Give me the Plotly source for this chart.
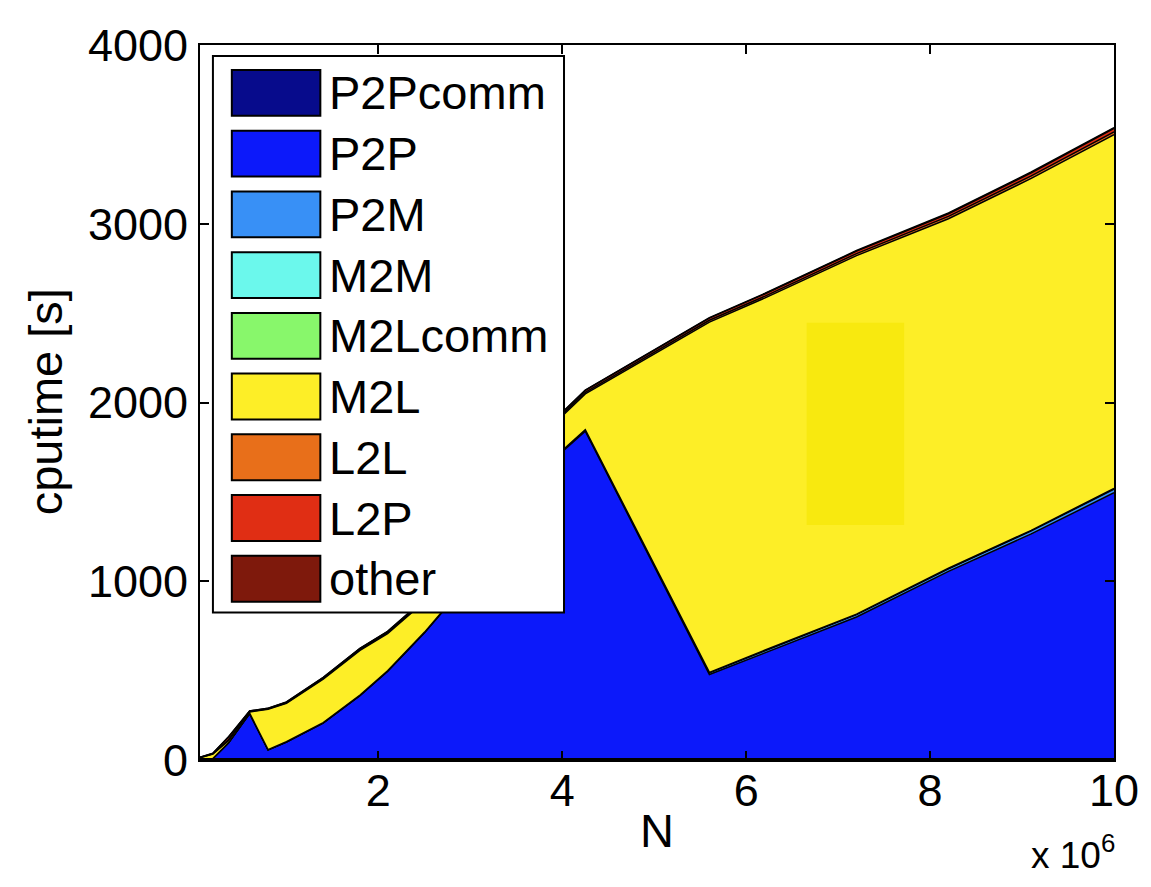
import plotly.graph_objects as go

# ---------------- data ----------------
N = [60000, 200000, 370000, 600000, 800000, 1000000, 1400000, 1800000, 2100000,
     2500000, 3000000, 3500000, 4000000, 4250000, 5600000, 6200000, 7200000,
     8200000, 9100000, 10000000]

P2Pcomm = [0, 0, 0, 0, 0, 0, 0, 0, 0, 0, 0, 0, 0, 0, 0, 0, 0, 0, 0, 0]
P2P     = [0, 8, 95, 258, 56, 100, 206, 360, 495, 710, 1010, 1350, 1725, 1840,
           478, 600, 800, 1055, 1265, 1495]
P2M     = [0, 0, 1, 3, 1, 1, 2, 2, 3, 3, 4, 5, 5, 6, 10, 11, 13, 15, 17, 20]
M2M     = [0, 0, 0, 1, 1, 1, 1, 1, 1, 1, 1, 2, 2, 2, 2, 3, 3, 3, 3, 4]
M2Lcomm = [0, 0, 0, 0, 0, 0, 0, 0, 0, 0, 0, 0, 0, 0, 0, 0, 0, 0, 0, 0]
M2L     = [13, 25, 12, 7, 226, 215, 243, 250, 208, 171, 168, 155, 193, 200,
           1960, 1970, 2006, 1955, 1969, 1979]
L2L     = [1, 2, 5, 2, 2, 3, 4, 5, 5, 6, 7, 7, 8, 9, 10, 10, 11, 13, 14, 16]
L2P     = [1, 2, 15, 3, 3, 4, 5, 6, 6, 7, 8, 9, 10, 11, 12, 13, 14, 15, 17, 19]
other   = [0, 1, 2, 1, 1, 1, 1, 1, 2, 2, 2, 2, 2, 2, 3, 3, 3, 4, 5, 5]

series_names = ["P2Pcomm", "P2P", "P2M", "M2M", "M2Lcomm", "M2L", "L2L", "L2P", "other"]
series_values = [P2Pcomm, P2P, P2M, M2M, M2Lcomm, M2L, L2L, L2P, other]
series_colors = ["#070B8C", "#0C19FA", "#3890F6", "#6BF8EC", "#88F76B",
                 "#FDEE27", "#E86F1A", "#E02E14", "#7E190C"]

x_tickvals = [2000000, 4000000, 6000000, 8000000, 10000000]
x_ticktext = ["2", "4", "6", "8", "10"]
y_tickvals = [0, 1000, 2000, 3000, 4000]

FONT = "Helvetica, Arial, Liberation Sans, sans-serif"
FS_TICK = 45
FS_TEXT = 47

fig = go.Figure()
for name, vals, col in zip(series_names, series_values, series_colors):
    fig.add_trace(go.Scatter(
        x=N, y=vals, name=name, mode="lines", stackgroup="one",
        line=dict(color="black", width=1.5), fillcolor=col, showlegend=False,
    ))

shapes = []
annotations = []

# plot area spans screen pixels x 200..1119, y 42..760
PH = 718.0
PW = 919.0
def py(pix):
    return (760 - pix) / PH
def px(pix):
    return (pix - 200) / PW

# slightly different yellow patch seen in the reference
shapes.append(dict(type="rect", xref="paper", yref="paper",
                   x0=px(810), x1=px(908), y0=py(524), y1=py(321),
                   fillcolor="#F8E90F", line=dict(width=0), layer="above"))

# thick baseline
shapes.append(dict(type="line", xref="paper", yref="paper", x0=0, x1=1, y0=0, y1=0,
                   line=dict(color="black", width=4), layer="above"))

# MATLAB-like legend box
shapes.append(dict(type="rect", xref="paper", yref="paper",
                   x0=px(213), x1=px(566), y0=py(612), y1=py(53),
                   fillcolor="white", line=dict(color="black", width=2), layer="above"))
for i, (name, col) in enumerate(zip(series_names, series_colors)):
    cy = 90 + 61 * i
    shapes.append(dict(type="rect", xref="paper", yref="paper",
                       x0=px(232), x1=px(321), y0=py(cy + 23), y1=py(cy - 23),
                       fillcolor=col, line=dict(color="black", width=2), layer="above"))
    annotations.append(dict(text=name, xref="paper", yref="paper", x=px(328), y=py(cy),
                            xanchor="left", yanchor="middle", showarrow=False,
                            font=dict(family=FONT, size=FS_TEXT, color="black")))

# axis titles
annotations.append(dict(text="N", xref="paper", yref="paper", x=0.5, y=py(831),
                        xanchor="center", yanchor="middle", showarrow=False,
                        font=dict(family=FONT, size=FS_TEXT, color="black")))
annotations.append(dict(text="cputime [s]", xref="paper", yref="paper", x=px(45), y=py(400),
                        xanchor="center", yanchor="middle", showarrow=False, textangle=-90,
                        font=dict(family=FONT, size=FS_TEXT, color="black")))
annotations.append(dict(text="x 10<sup>6</sup>", xref="paper", yref="paper", x=px(1122), y=py(853),
                        xanchor="right", yanchor="middle", showarrow=False,
                        font=dict(family=FONT, size=37, color="black")))

# the page body adds an 8px margin, so the figure is 8px smaller and margins shifted
fig.update_layout(
    width=1143, height=879,
    margin=dict(l=192, r=32, t=34, b=127),
    paper_bgcolor="white", plot_bgcolor="white",
    showlegend=False,
    shapes=shapes, annotations=annotations,
    font=dict(family=FONT, size=FS_TICK, color="black"),
)
fig.update_xaxes(range=[60000, 10000000], tickvals=x_tickvals, ticktext=x_ticktext,
                 showgrid=False, zeroline=False, showline=True, linecolor="black",
                 linewidth=2, mirror="ticks", ticks="inside", ticklen=9, tickwidth=2,
                 tickcolor="black", ticklabelstandoff=-10,
                 tickfont=dict(family=FONT, size=FS_TICK, color="black"))
fig.update_yaxes(range=[0, 4000], tickvals=y_tickvals,
                 showgrid=False, zeroline=False, showline=True, linecolor="black",
                 linewidth=2, mirror="ticks", ticks="inside", ticklen=9, tickwidth=2,
                 tickcolor="black", ticklabelstandoff=1,
                 tickfont=dict(family=FONT, size=FS_TICK, color="black"))

fig.write_html("out.html")
